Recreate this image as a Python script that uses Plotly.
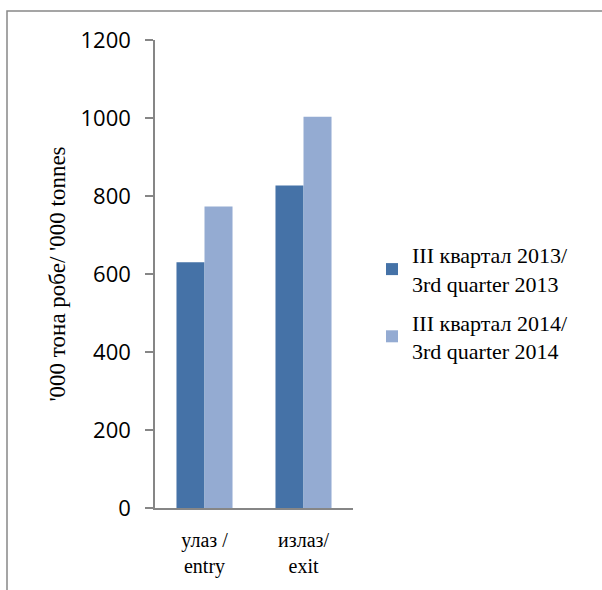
import plotly.graph_objects as go

categories = ["улаз /<br>entry", "излаз/<br>exit"]
series_names = ["III квартал 2013/<br>3rd quarter 2013", "III квартал 2014/<br>3rd quarter 2014"]
values_2013 = [630, 827]
values_2014 = [773, 1003]
colors = ["#4572A7", "#94ABD2"]
y_ticks = [0, 200, 400, 600, 800, 1000, 1200]

fig = go.Figure()
for i, (name, vals) in enumerate(zip(series_names, [values_2013, values_2014])):
    fig.add_trace(go.Bar(
        x=categories, y=vals, name=name, legendgroup=str(i),
        marker=dict(color=colors[i], line=dict(width=0)),
    ))

W, H = 602, 590
L, R, T, B = 155, 249, 40, 82
pw, ph = W - L - R, H - T - B

def px_x(p):
    return (p - L) / pw

def px_y(p):
    return (H - B - p) / ph

fig.update_layout(
    width=W, height=H,
    margin=dict(l=L, r=R, t=T, b=B, autoexpand=False),
    paper_bgcolor="white", plot_bgcolor="white",
    barmode="group", bargap=0.434, bargroupgap=0,
    showlegend=True,
    legend=dict(
        x=px_x(372), y=px_y(234), xanchor="left", yanchor="top",
        font=dict(family="Liberation Serif", size=22, color="black"),
        tracegroupgap=7, bgcolor="rgba(0,0,0,0)", itemclick=False,
    ),
    xaxis=dict(
        showline=True, linecolor="#868686", linewidth=1.5,
        ticks="", showgrid=False, ticklabelstandoff=13,
        tickfont=dict(family="Liberation Serif", size=20, color="black"),
    ),
    yaxis=dict(
        range=[0, 1200], tickvals=y_ticks,
        showline=True, linecolor="#868686", linewidth=1.5,
        ticks="outside", ticklen=8, tickcolor="#868686", tickwidth=1.5,
        showgrid=False, zeroline=False, ticklabelstandoff=10,
        tickfont=dict(family="Open Sans", size=22, color="black"),
        title=dict(text="'000 тона робе/ '000 tonnes",
                   font=dict(family="Liberation Serif", size=23, color="black"),
                   standoff=8),
    ),
    shapes=[dict(
        type="rect", xref="paper", yref="paper",
        x0=px_x(7), x1=px_x(640), y0=px_y(640), y1=px_y(11),
        line=dict(color="#888888", width=1.5), fillcolor="rgba(0,0,0,0)", layer="below",
    )],
)

fig.write_html("out.html", config={"displayModeBar": False},
               post_script="document.body.style.margin='0px';")
